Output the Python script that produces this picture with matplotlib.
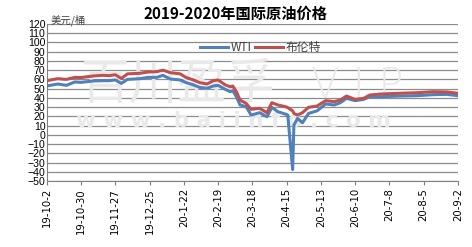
from matplotlib import pyplot as plt
import numpy as np
import pandas as pd

plt.rcParams['font.family'] = ['Noto Sans CJK SC', 'DejaVu Sans']

dates = ['2019-10-02', '2019-10-11', '2019-10-18', '2019-10-25', '2019-10-30',
         '2019-11-09', '2019-11-17', '2019-11-22', '2019-11-27', '2019-12-02',
         '2019-12-07', '2019-12-17', '2019-12-24', '2019-12-31', '2020-01-05',
         '2020-01-11', '2020-01-19', '2020-01-24', '2020-01-30', '2020-02-04',
         '2020-02-10', '2020-02-15', '2020-02-19', '2020-02-25', '2020-02-29',
         '2020-03-02', '2020-03-05', '2020-03-08', '2020-03-13', '2020-03-17',
         '2020-03-24', '2020-03-30', '2020-04-03', '2020-04-08', '2020-04-14',
         '2020-04-16', '2020-04-20', '2020-04-21', '2020-04-24', '2020-04-28',
         '2020-05-03', '2020-05-10', '2020-05-17', '2020-05-24', '2020-05-29',
         '2020-06-03', '2020-06-10', '2020-06-17', '2020-06-22', '2020-07-01',
         '2020-07-17', '2020-07-31', '2020-08-13', '2020-08-24', '2020-09-02']

wti = [52.9, 55.0, 53.6, 57.2, 56.8,
       58.3, 58.6, 58.6, 59.4, 55.7,
       60.0, 60.8, 62.2, 62.2, 64.4,
       60.4, 59.4, 56.5, 54.0, 51.4,
       50.3, 52.9, 53.6, 49.2, 46.7,
       47.8, 41.3, 32.3, 30.5, 21.4,
       24.0, 19.6, 29.7, 25.0, 22.5,
       21.4, -37.6, 10.6, 17.8, 13.0,
       23.2, 26.0, 33.4, 32.3, 34.8,
       39.5, 37.0, 38.4, 41.3, 41.3,
       42.0, 42.4, 43.5, 43.8, 42.4]

brent = [58.6, 60.8, 60.0, 62.2, 62.0,
         63.7, 64.4, 64.0, 65.0, 61.0,
         66.0, 66.6, 68.0, 68.4, 70.0,
         67.3, 66.0, 62.0, 59.4, 56.5,
         55.0, 58.6, 59.4, 54.0, 52.0,
         52.9, 46.7, 37.7, 34.0, 27.6,
         28.7, 24.0, 34.8, 32.3, 30.5,
         29.5, 26.0, 23.2, 21.4, 24.0,
         29.8, 31.2, 37.0, 35.9, 37.7,
         42.0, 38.4, 39.5, 43.1, 44.2,
         45.0, 45.6, 46.7, 46.4, 45.0]

tick_dates = ['2019-10-02', '2019-10-30', '2019-11-27', '2019-12-25', '2020-01-22',
              '2020-02-19', '2020-03-18', '2020-04-15', '2020-05-13', '2020-06-10',
              '2020-07-08', '2020-08-05', '2020-09-02']
tick_labels = ['19-10-2', '19-10-30', '19-11-27', '19-12-25', '20-1-22', '20-2-19',
               '20-3-18', '20-4-15', '20-5-13', '20-6-10', '20-7-8', '20-8-5', '20-9-2']

x = pd.to_datetime(dates)
xt = pd.to_datetime(tick_dates)

fig = plt.figure(figsize=(4.72, 2.47), dpi=100)
ax = fig.add_axes([0.099, 0.267, 0.871, 0.636])

# watermark
wm = '#e9e9e9'
ax.text(0.32, 0.61, '百川盈孚', transform=ax.transAxes, ha='center', va='center',
        fontsize=35, color=wm, fontweight='light', zorder=1.5)
ax.text(0.755, 0.61, 'V I P', transform=ax.transAxes, ha='center', va='center',
        fontsize=30, color=wm, fontweight='light', family='DejaVu Sans', zorder=1.5)
ax.text(0.455, 0.382, 'w w w . b a i i n f o . c o m', transform=ax.transAxes,
        ha='center', va='center', fontsize=15.5, color=wm, fontweight='bold',
        family='DejaVu Sans', zorder=1.5)

ax.plot(x, wti, color='#4F81BD', lw=2.2, label='WTI', zorder=3)
ax.plot(x, brent, color='#C0504D', lw=2.2, label='布伦特', zorder=3)

ax.set_xlim(xt[0], xt[-1])
ax.set_ylim(-50, 120)
ax.set_yticks(np.arange(-50, 121, 10))
ax.set_xticks(xt)
ax.set_xticklabels(tick_labels, rotation=90, family='DejaVu Sans', fontsize=7.3)
for lab in ax.get_yticklabels():
    lab.set_family('Liberation Sans')
    lab.set_fontsize(7.6)
ax.tick_params(axis='y', length=0, pad=1)
ax.tick_params(axis='x', length=3, pad=2, color='#808080')
ax.grid(axis='y', color='#8c8c8c', lw=0.9)
ax.set_axisbelow(True)
for s in ['top', 'right']:
    ax.spines[s].set_visible(False)
ax.spines['left'].set_color('#808080')
ax.spines['bottom'].set_color('#808080')

leg = ax.legend(loc='center', bbox_to_anchor=(0.519, 0.847), ncol=2, frameon=False,
                fontsize=8.5, handlelength=2.4, handletextpad=0.2, columnspacing=0.3,
                borderpad=0, borderaxespad=0)
for t in leg.get_texts():
    t.set_color('#404040')

fig.text(0.5, 0.945, '2019-2020年国际原油价格', ha='center', va='center',
         fontsize=11, fontweight='bold')
fig.text(0.107, 0.918, '美元/桶', ha='left', va='center', fontsize=7.5, color='#404040')

plt.savefig('out.png', dpi=100)
